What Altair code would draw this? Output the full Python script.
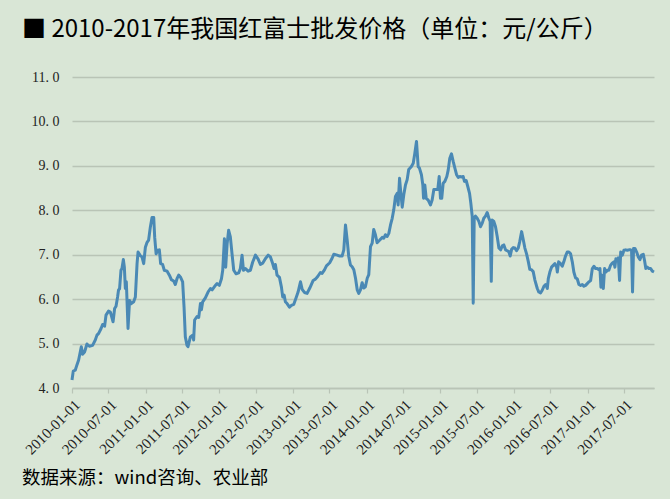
import altair as alt
import pandas as pd
import numpy as np

# ---- data (weeks since 2010-01-01, price in 元/公斤) ----
weeks_a = [0.0, 0.9, 2.3, 3.5, 4.7, 6.6, 7.5, 8.9, 10.6, 12.3,
           14.6, 16.5, 17.7, 18.9, 20.6, 21.7, 23.1, 24.1, 25.9, 27.2,
           29.1, 30.2, 31.2, 32.3, 33.0, 33.7, 34.7, 35.4, 36.4, 37.1,
           37.8, 38.5, 39.7, 40.8, 42.0, 43.7, 44.9, 46.1, 46.8, 48.4,
           49.6, 50.8, 52.0, 53.2, 54.3, 55.5, 56.7, 57.9, 58.6, 59.6,
           60.7, 61.9, 62.8, 64.2, 65.4, 67.4, 69.0, 70.4, 72.0, 73.2,
           74.4, 75.6, 76.8, 78.4, 79.4, 80.3, 81.5, 82.2]
prices_a = [4.18, 4.38, 4.40, 4.52, 4.63, 4.93, 4.76, 4.81, 4.99, 4.94,
            4.96, 5.08, 5.19, 5.23, 5.34, 5.43, 5.39, 5.64, 5.73, 5.71,
            5.49, 5.79, 5.84, 6.05, 6.21, 6.23, 6.65, 6.69, 6.89, 6.72,
            6.24, 6.39, 5.34, 5.97, 5.90, 5.94, 6.05, 6.80, 7.06, 6.98,
            6.95, 6.80, 7.17, 7.28, 7.33, 7.62, 7.84, 7.84, 7.39, 7.02,
            7.10, 7.11, 6.80, 6.78, 6.65, 6.63, 6.54, 6.44, 6.41, 6.33,
            6.46, 6.54, 6.50, 6.39, 5.82, 5.15, 4.96, 4.93]

weeks_b = [83.9, 85.5, 86.2, 86.9, 88.6, 89.8, 91.0, 91.7, 92.6, 94.5,
           96.4, 98.1, 99.3, 101.1, 102.8, 104.4, 105.9, 106.8, 108.0, 108.9,
           109.9, 111.0, 112.2, 113.4, 114.6, 116.3, 118.1, 119.3, 120.5, 121.5,
           122.9, 124.8, 126.4, 128.0, 130.0, 131.9, 133.5, 135.1, 137.0, 139.0,
           140.6, 142.2, 143.2, 144.1, 145.3, 147.0, 148.4, 149.3, 150.3, 151.2,
           152.4, 154.1, 155.5, 157.1, 158.8, 160.2, 161.9, 163.1, 164.7, 166.6,
           168.5, 170.9, 172.5, 174.1, 176.0, 177.2, 178.9, 180.3, 182.6, 184.3,
           185.5, 187.9, 189.7, 191.4, 192.6, 193.8, 195.0, 196.1, 197.3, 198.5,
           199.7, 200.9, 202.1, 203.2, 204.4, 205.6, 206.7, 207.9, 209.2, 210.3]
prices_b = [5.15, 5.19, 5.08, 5.53, 5.61, 5.59, 5.90, 5.76, 5.94, 6.03,
            6.16, 6.24, 6.21, 6.29, 6.35, 6.31, 6.46, 6.65, 7.36, 6.72,
            7.24, 7.55, 7.40, 7.02, 6.65, 6.57, 6.59, 6.69, 6.99, 6.65,
            6.69, 6.63, 6.65, 6.83, 6.99, 6.90, 6.78, 6.81, 6.91, 6.99,
            6.95, 6.80, 6.69, 6.78, 6.54, 6.49, 6.27, 6.05, 6.09, 5.94,
            5.90, 5.82, 5.86, 5.88, 6.03, 6.16, 6.39, 6.22, 6.15, 6.13,
            6.25, 6.42, 6.45, 6.51, 6.60, 6.58, 6.66, 6.75, 6.82, 6.92,
            7.01, 6.99, 6.97, 6.97, 7.11, 7.67, 7.33, 6.96, 6.77, 6.73,
            6.66, 6.47, 6.21, 6.13, 6.21, 6.37, 6.25, 6.28, 6.47, 6.55]

weeks_c = [211.5, 212.7, 213.8, 215.0, 216.2, 218.1, 219.8, 220.9, 222.1, 223.3,
           224.5, 225.7, 226.9, 228.0, 229.2, 230.4, 231.1, 232.1, 232.8, 234.0,
           235.1, 236.3, 237.5, 238.6, 240.4, 241.8, 242.9, 244.1, 245.3, 246.2,
           247.6, 248.6, 249.1, 250.0, 251.0, 252.4, 254.0, 255.2, 256.4, 258.1,
           259.2, 260.2, 261.1, 262.0, 263.0, 264.2, 265.6, 266.6, 267.7, 268.9,
           270.1, 271.3, 272.5, 273.7, 274.8, 276.0, 277.2, 278.1, 279.3, 280.5,
           281.7, 282.6, 283.6, 284.3, 285.0, 285.9, 287.1, 288.3, 289.5, 290.7,
           291.8, 293.0, 294.2, 295.4, 296.3, 297.1, 297.8, 298.9, 300.1, 301.3,
           302.5, 303.7, 304.9, 306.0, 307.2, 308.4, 309.5, 310.5, 311.5, 312.7]
prices_c = [7.18, 7.26, 7.57, 7.45, 7.27, 7.33, 7.39, 7.37, 7.45, 7.41,
            7.48, 7.67, 7.82, 8.01, 8.31, 8.38, 8.12, 8.72, 8.46, 8.07,
            8.35, 8.57, 8.69, 8.92, 8.98, 9.06, 9.28, 9.55, 8.98, 8.95,
            8.80, 8.57, 8.27, 8.57, 8.27, 8.23, 8.12, 8.23, 8.47, 8.47,
            8.47, 8.76, 8.27, 8.27, 8.61, 8.65, 8.76, 8.91, 9.17, 9.27,
            9.10, 8.95, 8.80, 8.74, 8.76, 8.75, 8.76, 8.65, 8.67, 8.53,
            8.38, 8.16, 7.86, 5.91, 7.82, 7.87, 7.82, 7.75, 7.63, 7.71,
            7.82, 7.87, 7.95, 7.82, 7.75, 6.40, 7.78, 7.75, 7.63, 7.41,
            7.15, 7.11, 7.20, 7.22, 7.11, 7.09, 7.07, 6.97, 7.12, 7.16]

weeks_d = [313.8, 315.0, 316.2, 317.3, 318.6, 319.8, 320.9, 322.1, 323.3, 324.4,
           325.6, 326.8, 328.0, 329.7, 330.8, 332.0, 333.2, 334.4, 335.6, 336.8,
           337.5, 338.6, 339.8, 341.0, 342.2, 343.4, 343.9, 344.8, 346.2, 347.4,
           348.5, 349.7, 350.9, 352.1, 353.3, 354.5, 355.6, 356.8, 358.0, 359.2,
           360.4, 361.6, 362.7, 363.9, 365.1, 366.3, 367.5, 368.7, 369.8, 371.0,
           372.2, 373.4, 374.1, 374.8, 375.5, 376.5, 377.4, 378.3, 379.3, 380.4,
           381.6, 382.8, 384.0, 384.7, 385.4, 386.4, 387.1, 388.0, 388.8, 390.0,
           391.1, 392.3, 393.5, 394.6, 395.8, 396.5, 397.2, 397.9, 398.9, 400.1,
           401.3, 402.4, 403.6, 404.8, 405.7, 406.6, 407.6, 408.8, 410.0, 411.2,
           412.4]
prices_d = [7.15, 7.09, 7.15, 7.30, 7.52, 7.33, 7.15, 7.02, 6.85, 6.67,
            6.66, 6.62, 6.43, 6.24, 6.16, 6.14, 6.20, 6.29, 6.33, 6.24,
            6.46, 6.61, 6.72, 6.76, 6.80, 6.72, 6.61, 6.84, 6.80, 6.74,
            6.84, 6.97, 7.06, 7.06, 7.02, 6.84, 6.61, 6.48, 6.46, 6.33,
            6.31, 6.33, 6.29, 6.31, 6.35, 6.39, 6.42, 6.69, 6.74, 6.69,
            6.69, 6.66, 6.69, 6.27, 6.54, 6.24, 6.69, 6.61, 6.65, 6.65,
            6.76, 6.81, 6.84, 6.72, 6.91, 6.87, 6.93, 6.42, 7.06, 6.99,
            7.10, 7.11, 7.10, 7.11, 7.11, 7.10, 6.16, 7.14, 7.14, 7.06,
            6.95, 6.89, 6.99, 7.01, 6.87, 6.69, 6.72, 6.69, 6.69, 6.63,
            6.61]

tick_labels = ["2010-01-01", "2010-07-01", "2011-01-01", "2011-07-01",
               "2012-01-01", "2012-07-01", "2013-01-01", "2013-07-01",
               "2014-01-01", "2014-07-01", "2015-01-01", "2015-07-01",
               "2016-01-01", "2016-07-01", "2017-01-01", "2017-07-01"]
y_ticks = [4, 5, 6, 7, 8, 9, 10, 11]

title_text = "■ 2010-2017年我国红富士批发价格（单位：元/公斤）"
source_text = "数据来源：wind咨询、农业部"

# ---- build table ----
weeks = weeks_a + weeks_b + weeks_c + weeks_d
prices = prices_a + prices_b + prices_c + prices_d
assert len(weeks) == len(prices)
start = pd.Timestamp("2010-01-01")
dates = [(start + pd.Timedelta(days=w * 7)).strftime("%Y-%m-%dT%H:%M:%S") for w in weeks]
df = pd.DataFrame({"date": dates, "price": prices})

tick_values = []
for s in tick_labels:
    y, m, d = s.split("-")
    tick_values.append(alt.DateTime(year=int(y), month=int(m), date=int(d)))

BG = "#D9E6D6"
GRID = "#B9C4B6"
LINE = "#4A89B5"

W, H = 582, 311

line = alt.Chart(df).mark_line(color=LINE, strokeWidth=3, strokeJoin="round").encode(
    x=alt.X("date:T",
            scale=alt.Scale(nice=False),
            axis=alt.Axis(title=None, values=tick_values, format="%Y-%m-%d",
                          labelAngle=-45, labelFont="Liberation Serif",
                          labelFontSize=15, labelColor="#222222",
                          labelPadding=4, labelOverlap=False, labelBound=False,
                          grid=False, domain=True,
                          domainColor=GRID, domainWidth=1.5,
                          ticks=True, tickColor=GRID, tickSize=5, tickWidth=1.2)),
    y=alt.Y("price:Q",
            scale=alt.Scale(domain=[4, 11], nice=False, zero=False),
            axis=alt.Axis(title=None, values=y_ticks,
                          labelExpr="replace(format(datum.value, '.1f'), '.', '. ')",
                          labelFont="Liberation Serif", labelFontSize=14,
                          labelColor="#222222", labelPadding=13,
                          domain=False, ticks=False, grid=True,
                          gridColor=GRID, gridWidth=1.5)),
)

title = alt.Chart(pd.DataFrame({"t": [title_text]})).mark_text(
    align="left", baseline="middle", font="Noto Sans CJK SC",
    fontSize=24, color="#000000"
).encode(x=alt.value(-50), y=alt.value(-47), text="t:N")

source = alt.Chart(pd.DataFrame({"t": [source_text]})).mark_text(
    align="left", baseline="middle", font="Noto Sans CJK SC",
    fontSize=18.5, color="#000000"
).encode(x=alt.value(-50), y=alt.value(401), text="t:N")

chart = alt.layer(line, title, source).properties(
    width=W, height=H,
    autosize=alt.AutoSizeParams(type="none"),
    padding={"left": 72, "top": 77, "right": 16, "bottom": 111},
    background=BG,
).configure_view(stroke=None)

chart.save("out.html", embed_options={"renderer": "svg", "actions": False})
